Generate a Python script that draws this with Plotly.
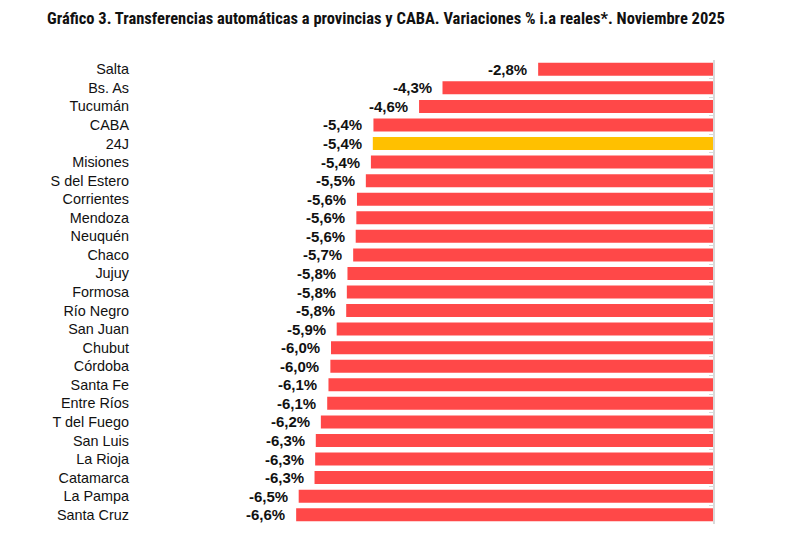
import plotly.graph_objects as go

categories = ["Salta", "Bs. As", "Tucumán", "CABA", "24J", "Misiones", "S del Estero",
              "Corrientes", "Mendoza", "Neuquén", "Chaco", "Jujuy", "Formosa", "Río Negro",
              "San Juan", "Chubut", "Córdoba", "Santa Fe", "Entre Ríos", "T del Fuego",
              "San Luis", "La Rioja", "Catamarca", "La Pampa", "Santa Cruz"]
values = [-2.76, -4.27, -4.64, -5.36, -5.37, -5.40, -5.48,
          -5.62, -5.63, -5.64, -5.68, -5.77, -5.78, -5.79,
          -5.94, -6.03, -6.04, -6.07, -6.09, -6.19,
          -6.27, -6.28, -6.29, -6.54, -6.58]
highlight = "24J"

RED = "#FF4848"
YELLOW = "#FFC000"
colors = [YELLOW if c == highlight else RED for c in categories]
labels = [("%.1f" % v).replace(".", ",") + "%" for v in values]

fig = go.Figure()
fig.add_trace(go.Bar(
    x=values, y=categories, orientation="h",
    marker=dict(color=colors, line=dict(width=0)),
    hoverinfo="skip", showlegend=False,
))
# invisible trace to drive the right-hand axis line with boundary ticks
fig.add_trace(go.Scatter(
    x=[0] * len(categories), y=categories, yaxis="y2", mode="markers",
    marker=dict(opacity=0), hoverinfo="skip", showlegend=False,
))

for c, v, t in zip(categories, values, labels):
    fig.add_annotation(x=v, y=c, text=t, showarrow=False, xanchor="right",
                       xshift=-9, font=dict(family="Liberation Sans, Arial", size=15,
                                            color="#111111", weight="bold"))

W, H = 786, 543
L, R = 128, 81
scale = 63.35
xmin = -(W - R - L) / scale

n = len(categories)
fig.update_layout(
    width=W, height=H,
    margin=dict(l=L, r=R, t=52, b=27),
    paper_bgcolor="white", plot_bgcolor="white",
    bargap=0.3,
    title=dict(text="<b>Gráfico 3. Transferencias automáticas a provincias y CABA. Variaciones % i.a reales*. Noviembre 2025</b>",
               x=378 / W, xanchor="center", xref="container", y=1 - 10 / H, yanchor="middle",
               yref="container",
               font=dict(family="Liberation Sans Narrow, Roboto Condensed, Arial Narrow, Liberation Sans",
                         size=16.5, color="#111111")),
    xaxis=dict(range=[xmin, 0], showticklabels=False, showgrid=False, zeroline=False,
               showline=False, ticks="", fixedrange=True),
    yaxis=dict(type="category", categoryarray=categories, range=[n - 0.5, -0.5],
               showgrid=False, showline=False, ticks="", ticklabelstandoff=6,
               tickfont=dict(family="Liberation Sans, Arial", size=14.4, color="#111111")),
    yaxis2=dict(type="category", categoryarray=categories, overlaying="y", side="right",
                matches="y", showgrid=False, showline=True, linecolor="#D9D9D9", linewidth=2,
                ticks="inside", tickson="boundaries", ticklen=4, tickcolor="#D9D9D9",
                tickwidth=1, showticklabels=False),
)

fig.write_html("out.html")
